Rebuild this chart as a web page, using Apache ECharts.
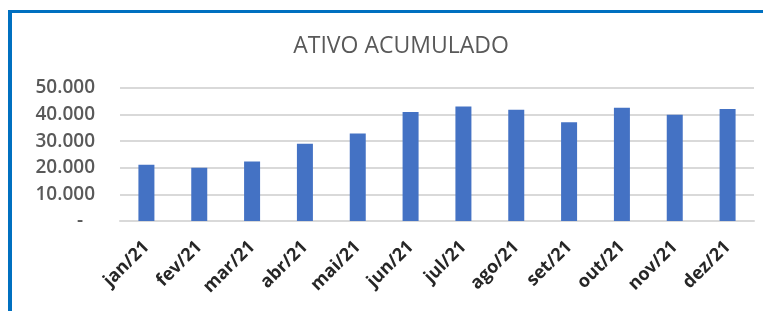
<!DOCTYPE html>
<html>
<head>
<meta charset="utf-8">
<script src="https://cdn.jsdelivr.net/npm/echarts@6/dist/echarts.min.js"></script>
<style>
  html, body { margin: 0; padding: 0; background: #fff; }
  #frame {
    position: absolute; left: 8px; top: 10px; right: 0; bottom: 0;
    border-top: 3px solid #0070C0; border-left: 4px solid #0070C0;
  }
  #main_chart { position: absolute; left: 0; top: 0; width: 763px; height: 311px; }
</style>
</head>
<body>
<div id="frame"></div>
<div id="main_chart"></div>
<script>
// meses
var meses = ['jan/21', 'fev/21', 'mar/21', 'abr/21', 'mai/21', 'jun/21',
             'jul/21', 'ago/21', 'set/21', 'out/21', 'nov/21', 'dez/21'];
// ativo acumulado
var ativo = [21100, 20000, 22400, 29000, 32900, 41000,
             43000, 41800, 37100, 42600, 39900, 42100];
var eixoY = { min: 0, max: 50000, intervalo: 10000 };

function formataMilhar(v){
    if(v == 0){
        return '{zero|-}';
    }
    return (v + '').replace(/\B(?=(\d{3})+(?!\d))/g, '.');
}

var myChart = echarts.init(document.getElementById('main_chart'));
var option = {
    animation: false,
    title: {
        text: 'ATIVO ACUMULADO',
        left: 396,
        top: 30,
        textAlign: 'center',
        textStyle: {
            fontFamily: 'Open Sans',
            fontSize: 23,
            fontWeight: 'normal',
            color: '#595959'
        }
    },
    grid: {
        left: 120,
        right: 9,
        top: 88,
        bottom: 90,
        containLabel: false
    },
    xAxis: {
        type: 'category',
        data: meses,
        axisTick: { show: false },
        axisLine: { lineStyle: { color: '#D9D9D9', width: 2 } },
        axisLabel: {
            rotate: 45,
            margin: 23,
            fontFamily: 'Open Sans',
            fontSize: 18,
            fontWeight: 'bold',
            color: '#262626'
        }
    },
    yAxis: {
        type: 'value',
        min: eixoY.min,
        max: eixoY.max,
        interval: eixoY.intervalo,
        axisLine: { show: false },
        axisTick: { show: false },
        splitLine: { lineStyle: { color: '#D9D9D9', width: 2 } },
        axisLabel: {
            margin: 25,
            fontFamily: 'Open Sans',
            fontSize: 19,
            fontWeight: 600,
            color: '#595959',
            formatter: formataMilhar,
            rich: {
                zero: {
                    fontFamily: 'Open Sans',
                    fontSize: 19,
                    fontWeight: 600,
                    color: '#595959',
                    padding: [0, 12, 0, 0]
                }
            }
        }
    },
    series: [{
        name: 'Ativo',
        type: 'bar',
        data: ativo,
        barWidth: 16,
        itemStyle: { color: '#4472C4' }
    }]
};
myChart.setOption(option);
</script>
</body>
</html>
